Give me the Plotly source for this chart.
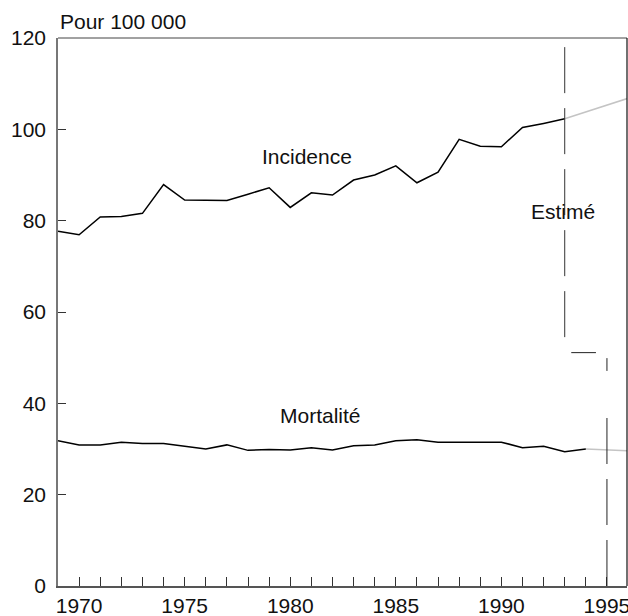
import plotly.graph_objects as go

# Observed values (per 100 000)
years_incidence = list(range(1969, 1994))
incidence = [77.7, 76.9, 80.8, 80.9, 81.6, 87.9, 84.5, 84.5, 84.4, 85.8, 87.2, 82.9, 86.1,
             85.6, 88.9, 90.0, 92.0, 88.3, 90.6, 97.8, 96.3, 96.2, 100.4, 101.3, 102.3]

years_mortality = list(range(1969, 1995))
mortality = [31.8, 30.9, 30.9, 31.5, 31.2, 31.2, 30.6, 30.0, 30.9, 29.7, 29.9, 29.8, 30.3,
             29.8, 30.7, 30.9, 31.8, 32.0, 31.5, 31.5, 31.4, 31.5, 30.3, 30.6, 29.4, 30.0]

# Estimated (projected) parts
years_incidence_est = [1993, 1996]
incidence_est = [102.3, 106.8]
years_mortality_est = [1994, 1996]
mortality_est = [30.0, 29.6]

x_tickvals = [1970, 1975, 1980, 1985, 1990, 1995]
y_tickvals = [0, 20, 40, 60, 80, 100, 120]

# "Estimé" bracket marks
est_line_year = 1993
est_line_top, est_line_bottom = 118, 54.1
est_bar_x = [1993.31, 1994.48]
est_bar_y = 51.1
end_line_year = 1995
end_line_dashed_top = 39.85
end_line_solid = [47.1, 49.9]

FONT = "Liberation Sans, Arial, sans-serif"
INK = "#111111"
FS = 21

fig = go.Figure()

fig.add_trace(go.Scatter(x=years_incidence_est, y=incidence_est, mode="lines",
                         line=dict(color="#c4c4c4", width=1.5), hoverinfo="skip"))
fig.add_trace(go.Scatter(x=years_mortality_est, y=mortality_est, mode="lines",
                         line=dict(color="#c4c4c4", width=1.5), hoverinfo="skip"))
fig.add_trace(go.Scatter(x=years_incidence, y=incidence, mode="lines",
                         line=dict(color="black", width=1.5), name="Incidence"))
fig.add_trace(go.Scatter(x=years_mortality, y=mortality, mode="lines",
                         line=dict(color="black", width=1.5), name="Mortalité"))

shapes = [
    dict(type="line", xref="x", yref="y", x0=est_line_year, x1=est_line_year,
         y0=est_line_top, y1=est_line_bottom, line=dict(color="#333333", width=1, dash="46px,15px")),
    dict(type="line", xref="x", yref="y", x0=est_bar_x[0], x1=est_bar_x[1],
         y0=est_bar_y, y1=est_bar_y, line=dict(color="#222222", width=1)),
    dict(type="line", xref="x", yref="y", x0=end_line_year, x1=end_line_year,
         y0=0, y1=end_line_dashed_top, line=dict(color="#222222", width=1, dash="46px,15px")),
    dict(type="line", xref="x", yref="y", x0=end_line_year, x1=end_line_year,
         y0=end_line_solid[0], y1=end_line_solid[1], line=dict(color="#222222", width=1)),
    # top and right frame
    dict(type="line", xref="paper", yref="paper", x0=0, x1=1, y0=1, y1=1,
         line=dict(color="#444444", width=1)),
    dict(type="line", xref="paper", yref="paper", x0=1, x1=1, y0=0, y1=1,
         line=dict(color="#111111", width=1.2)),
]

annotations = [
    dict(text="Pour 100 000", xref="paper", yref="paper", x=0, y=1, xanchor="left",
         yanchor="bottom", yshift=3, showarrow=False, font=dict(size=FS, color=INK)),
    dict(text="Incidence", x=1980.79, y=94.0, showarrow=False, font=dict(size=FS, color=INK)),
    dict(text="Mortalité", x=1981.44, y=37.4, showarrow=False, font=dict(size=FS, color=INK)),
    dict(text="Estimé", x=1992.9, y=82.1, showarrow=False, font=dict(size=FS, color=INK)),
]

fig.update_layout(
    width=628, height=616,
    margin=dict(l=58, r=1, t=38, b=30, autoexpand=False),
    paper_bgcolor="white", plot_bgcolor="white",
    showlegend=False,
    font=dict(family=FONT, size=FS, color=INK),
    shapes=shapes,
    annotations=annotations,
    xaxis=dict(range=[1969, 1995.95], tickmode="array", tickvals=x_tickvals,
               ticks="inside", ticklen=9, tickcolor="#333333", tickwidth=1,
               minor=dict(dtick=1, tick0=1969, ticks="inside", ticklen=9,
                          tickcolor="#333333", tickwidth=1, showgrid=False),
               showline=True, linecolor="#555555", linewidth=1.5,
               showgrid=False, zeroline=False, tickfont=dict(size=FS, color=INK),
               ticklabeloverflow="allow", automargin=False),
    yaxis=dict(range=[0, 120], tickmode="array", tickvals=y_tickvals,
               ticks="inside", ticklen=8, tickcolor="#333333", tickwidth=1,
               showline=True, linecolor="#777777", linewidth=1.5,
               showgrid=False, zeroline=False, tickfont=dict(size=FS, color=INK),
               ticklabelstandoff=6, automargin=False),
)

fig.write_html("out.html", config={"displayModeBar": False},
               post_script="document.body.style.margin='0';")
